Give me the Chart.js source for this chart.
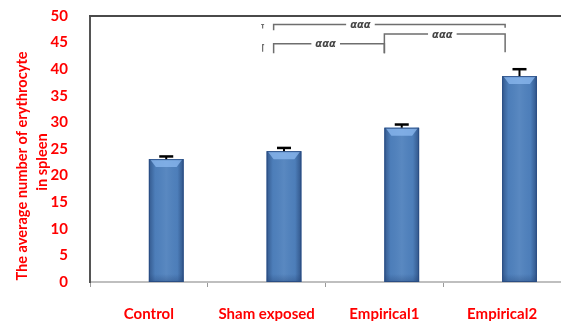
<!DOCTYPE html>
<html><head><meta charset="utf-8">
<script src="https://cdn.jsdelivr.net/npm/chart.js@4.4.0/dist/chart.umd.min.js"></script>
<style>html,body{margin:0;padding:0;background:#fff;}#wrap{width:561px;height:321px;position:relative;}</style>
</head><body><div id="wrap"><canvas id="c"></canvas></div>
<script>
const categories = ['Control', 'Sham exposed', 'Empirical1', 'Empirical2'];
const meanValues = [23.1, 24.6, 29.0, 38.7];
const errorValues = [0.5, 0.6, 0.6, 1.3];
const yTicks = [0, 5, 10, 15, 20, 25, 30, 35, 40, 45, 50];
const yTitleLines = ['The average number of erythrocyte', 'in spleen'];
const sigPairs = [[1, 3], [1, 2], [2, 3]];
const sigLevels = [48.4, 44.8, 46.6];
const sigTickEnds = [[47.3, 47.8], [43.0, 43.0], [43.0, 43.2]];
const sigLabels = ['ααα', 'ααα', 'ααα'];

const RED = '#ff0000';
const FONT = 'Lato, "Open Sans", sans-serif';
const bracketNudge = [0, 7, 0, 3];
const labelFrac = [0.375, 0.47, 0.48];

const decoPlugin = {
  id: 'deco',
  afterDatasetsDraw(chart) {
    const ctx = chart.ctx;
    const xs = chart.scales.x, ys = chart.scales.y;
    const meta = chart.getDatasetMeta(1);
    meta.data.forEach((el) => {
      const p = el.getProps(['x', 'y', 'base', 'width'], true);
      const l = p.x - p.width / 2, r = p.x + p.width / 2;
      const g = ctx.createLinearGradient(l, 0, r, 0);
      g.addColorStop(0, 'rgba(25,50,95,0.5)');
      g.addColorStop(0.18, 'rgba(25,50,95,0.04)');
      g.addColorStop(0.5, 'rgba(255,255,255,0.06)');
      g.addColorStop(0.82, 'rgba(25,50,95,0.04)');
      g.addColorStop(1, 'rgba(25,50,95,0.55)');
      ctx.save();
      ctx.fillStyle = g;
      ctx.fillRect(l, p.y, p.width, p.base - p.y);
      ctx.beginPath();
      ctx.moveTo(l + 1, p.y);
      ctx.lineTo(r - 1, p.y);
      ctx.lineTo(r - 7, p.y + 8);
      ctx.lineTo(l + 7, p.y + 8);
      ctx.closePath();
      ctx.fillStyle = 'rgba(140,185,240,0.75)';
      ctx.fill();
      const gb = ctx.createLinearGradient(0, p.base - 8, 0, p.base);
      gb.addColorStop(0, 'rgba(30,60,110,0)');
      gb.addColorStop(1, 'rgba(30,60,110,0.35)');
      ctx.fillStyle = gb;
      ctx.fillRect(l, p.base - 8, p.width, 8);
      ctx.strokeStyle = 'rgba(40,75,130,0.9)';
      ctx.lineWidth = 1;
      ctx.strokeRect(l + 0.5, p.y + 0.5, p.width - 1, p.base - p.y - 1);
      ctx.restore();
    });
    ctx.save();
    ctx.strokeStyle = '#000';
    meta.data.forEach((el, i) => {
      const p = el.getProps(['x', 'y'], true);
      const yt = ys.getPixelForValue(meanValues[i] + errorValues[i]);
      ctx.lineWidth = 2;
      ctx.beginPath(); ctx.moveTo(p.x, p.y); ctx.lineTo(p.x, yt); ctx.stroke();
      ctx.lineWidth = 2.5;
      ctx.beginPath(); ctx.moveTo(p.x - 7, yt); ctx.lineTo(p.x + 7, yt); ctx.stroke();
    });
    ctx.restore();
    ctx.save();
    ctx.strokeStyle = '#6e6e6e';
    ctx.lineWidth = 1.5;
    sigPairs.forEach((pr, k) => {
      const x1 = xs.getPixelForValue(pr[0]) + bracketNudge[pr[0]];
      const x2 = xs.getPixelForValue(pr[1]) + bracketNudge[pr[1]];
      const y = ys.getPixelForValue(sigLevels[k]);
      const y1 = ys.getPixelForValue(sigTickEnds[k][0]);
      const y2 = ys.getPixelForValue(sigTickEnds[k][1]);
      ctx.beginPath();
      ctx.moveTo(x1, y1); ctx.lineTo(x1, y); ctx.lineTo(x2, y); ctx.lineTo(x2, y2);
      ctx.stroke();
      const tx = x1 + (x2 - x1) * labelFrac[k];
      ctx.font = 'italic bold 10px "DejaVu Sans", sans-serif';
      const w = ctx.measureText(sigLabels[k]).width;
      ctx.fillStyle = '#fff';
      ctx.fillRect(tx - w / 2 - 4, y - 4, w + 8, 8);
      ctx.fillStyle = '#444';
      ctx.textAlign = 'center';
      ctx.textBaseline = 'middle';
      ctx.fillText(sigLabels[k], tx, y + 1);
    });
    const xm = xs.getPixelForValue(1) - 4;
    const ya = ys.getPixelForValue(sigLevels[0]);
    ctx.lineWidth = 1.2;
    ctx.beginPath(); ctx.moveTo(xm - 1.5, ya); ctx.lineTo(xm + 1.5, ya); ctx.moveTo(xm, ya); ctx.lineTo(xm, ya + 4); ctx.stroke();
    const yb = ys.getPixelForValue(sigLevels[1]);
    ctx.beginPath(); ctx.moveTo(xm + 1.5, yb + 1); ctx.lineTo(xm, yb + 1); ctx.lineTo(xm, yb + 8); ctx.stroke();
    ctx.restore();
  },
  afterDraw(chart) {
    const ctx = chart.ctx;
    const a = chart.chartArea;
    ctx.save();
    ctx.strokeStyle = '#4a4a4a';
    ctx.lineWidth = 2;
    ctx.beginPath(); ctx.moveTo(a.left - 1, a.top); ctx.lineTo(561, a.top); ctx.stroke();
    ctx.fillStyle = RED;
    ctx.font = 'bold 14.6px ' + FONT;
    ctx.textAlign = 'center';
    ctx.textBaseline = 'middle';
    ctx.translate(22, 166);
    ctx.rotate(-Math.PI / 2);
    ctx.fillText(yTitleLines[0], 0, 0);
    ctx.fillText(yTitleLines[1], 4, 20);
    ctx.restore();
  }
};

new Chart(document.getElementById('c'), {
  type: 'bar',
  data: {
    labels: categories,
    datasets: [
      { data: categories.map(() => null), backgroundColor: 'transparent' },
      { data: meanValues, backgroundColor: '#4f81bd', borderWidth: 0 }
    ]
  },
  options: {
    responsive: true,
    maintainAspectRatio: false,
    animation: false,
    devicePixelRatio: 1,
    categoryPercentage: 0.59,
    barPercentage: 1.0,
    layout: { padding: { top: 16, right: 0, left: 0, bottom: 0 } },
    plugins: { legend: { display: false }, tooltip: { enabled: false }, title: { display: false } },
    scales: {
      x: {
        grid: { display: true, drawOnChartArea: false, drawTicks: true, tickLength: 5, color: '#9a9a9a', offset: true },
        border: { display: true, color: '#bfbfbf', width: 2 },
        ticks: { color: RED, font: { family: FONT, size: 15, weight: 'bold' }, padding: 18, maxRotation: 0 },
        afterFit(s) { s.height = 39; s.paddingLeft = 0; s.paddingRight = 0; }
      },
      y: {
        min: 0, max: 50,
        afterBuildTicks(s) { s.ticks = yTicks.map(v => ({ value: v })); },
        grid: { display: false, drawTicks: false },
        border: { display: true, color: '#555', width: 2 },
        ticks: { color: RED, font: { family: FONT, size: 15, weight: 'bold' }, padding: 22 },
        afterFit(s) { s.width = 90; s.paddingTop = 0; s.paddingBottom = 0; }
      }
    }
  },
  plugins: [decoPlugin]
});
</script></body></html>
